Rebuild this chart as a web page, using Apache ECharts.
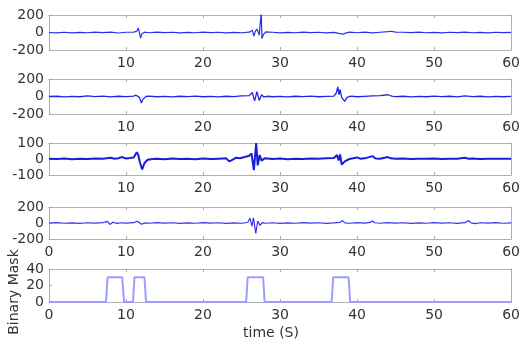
<!DOCTYPE html>
<html>
<head>
<meta charset="utf-8">
<script src="https://cdn.jsdelivr.net/npm/echarts@6/dist/echarts.min.js"></script>
<style>
  html, body { margin: 0; padding: 0; background: #fff; }
  #chart { width: 523px; height: 341px; }
</style>
</head>
<body>
<div id="chart"></div>
<script>
// time (s), amplitude pairs
const sig1 = [
  [0, 0], [1, -5], [2, 3], [3, -4], [4, 2], [5, -3], [6, 4], [7, -2], [8, 5], [9, -6], [10, 3],
  [11, 5], [11.4, 15], [11.6, 50], [11.75, 30], [11.9, -65], [12.05, -15], [12.4, 4], [13, -3],
  [14, 4], [15, -2], [16, 3], [17, -4], [18, 2], [19, -3], [20, 4], [21, -2], [22, 3], [23, -5],
  [24, 2], [25, -3], [26, 4], [26.4, 25], [26.6, -40], [26.8, 15], [27.0, 40], [27.3, -30],
  [27.55, 230], [27.65, -70], [27.85, -20], [28.2, 8], [29, 3], [30, -4], [31, 2], [32, -3],
  [33, 4], [34, -2], [35, 3], [36, -4], [37, 2], [37.8, -12], [38.2, -18], [38.6, -5], [39, 4],
  [40, -3], [41, 5], [42, -4], [43, 3], [44, 10], [44.4, 14], [45, 5], [46, 3], [47, -2],
  [48, 4], [49, -3], [50, 2], [51, -4], [52, 3], [53, -2], [54, 5], [55, -3], [56, 2], [57, -4],
  [58, 3], [59, -2], [60, 2]
];
const sig2 = [
  [0, 0], [1, 3], [2, -4], [3, 2], [4, -3], [5, 6], [6, -2], [7, 5], [8, -4], [9, 3], [10, -2],
  [11, 4], [11.3, 15], [11.55, 35], [11.75, -10], [12.0, -75], [12.2, -30], [12.6, 0], [13, 4],
  [14, -3], [15, 2], [16, -4], [17, 3], [18, -2], [19, 4], [20, -3], [21, 2], [22, -4], [23, 3],
  [24, -2], [25, 6], [26, 10], [26.4, 45], [26.7, -50], [27.0, 55], [27.3, -45], [27.6, 20],
  [27.9, -5], [28.5, 3], [29, -3], [30, 2], [31, -4], [32, 3], [33, -2], [34, 4], [35, -3],
  [36, 2], [37, 5], [37.3, 40], [37.5, 110], [37.65, 20], [37.8, 80], [38.0, -10], [38.4, -55],
  [38.7, -10], [39.2, 4], [40, -3], [41, 2], [42, 6], [43, 10], [44, 20], [44.5, 5], [45, -2],
  [46, 3], [47, -4], [48, 2], [49, -3], [50, 4], [51, -2], [52, 3], [53, -4], [54, 6], [55, -2],
  [56, 3], [57, -4], [58, 2], [59, -3], [60, 2]
];
const sig3 = [
  [0, 2], [1, 0], [2, 3], [3, -1], [4, 2], [5, 0], [6, 3], [7, 1], [8, 8], [8.5, 2], [9, 5],
  [9.5, 12], [10, 3], [10.5, 6], [11, 10], [11.4, 42], [11.6, 25], [11.8, -20], [12.1, -65],
  [12.4, -25], [12.8, -5], [13.5, 0], [14, 2], [15, -1], [16, 3], [17, 0], [18, 2], [19, -1],
  [20, 3], [21, 0], [22, 2], [23, 4], [23.4, -15], [23.8, -5], [24.3, 8], [24.8, 5], [25.4, 12],
  [26.0, 20], [26.3, 35], [26.6, -70], [26.9, 100], [27.1, -40], [27.35, 25], [27.6, -10],
  [28, 4], [29, 0], [30, 3], [31, -1], [32, 2], [33, 0], [34, 3], [35, 1], [36, 4], [37, 6],
  [37.4, 25], [37.6, -10], [37.8, 28], [38.0, -35], [38.4, -15], [39, 0], [40, 10], [40.4, 2],
  [41, 4], [42, 18], [42.4, 3], [43, 2], [44, 12], [44.4, 4], [45, 1], [46, 3], [47, 0], [48, 2],
  [49, 1], [50, 3], [51, 0], [52, 2], [53, 1], [54, 8], [54.5, 2], [55, 3], [56, 0], [57, 2],
  [58, 1], [59, 2], [60, 1]
];
const sig4 = [
  [0, 0], [1, 4], [2, -3], [3, 2], [4, -4], [5, 3], [6, -2], [7, 4], [7.6, 20], [7.9, -18],
  [8.3, 10], [8.8, -5], [9.5, 3], [10, -2], [11, 4], [11.4, 22], [11.7, 8], [12.0, -15],
  [12.5, 2], [13, -3], [14, 4], [15, -2], [16, 3], [17, -4], [18, 2], [19, -3], [20, 4],
  [21, -2], [22, 3], [23, -4], [24, 2], [25, -3], [25.8, 6], [26.1, 60], [26.35, -40],
  [26.55, 65], [26.85, -130], [27.1, 25], [27.4, -30], [27.7, 5], [28.2, -3], [29, 3], [30, -4],
  [31, 2], [32, -3], [33, 4], [34, -2], [35, 3], [36, -4], [37, 2], [37.8, 8], [38.1, 30],
  [38.4, 2], [39, -3], [40, 4], [41, -2], [41.7, 8], [42.0, 25], [42.3, 3], [43, -3], [44, 4],
  [45, -2], [46, 3], [47, -4], [48, 2], [49, -3], [50, 4], [51, -2], [52, 3], [53, -4],
  [54, 4], [54.5, 30], [54.8, 2], [55.3, -8], [56, 3], [57, -2], [58, 4], [59, -3], [60, 2]
];
const binaryMask = [
  [0, 0], [7.4, 0], [7.6, 30], [9.5, 30], [9.75, 0], [10.9, 0], [11.1, 30], [12.4, 30],
  [12.6, 0], [25.6, 0], [25.8, 30], [27.8, 30], [28.0, 0], [36.7, 0], [36.9, 30], [38.9, 30],
  [39.1, 0], [60, 0]
];
const yRanges = [[-200, 200, 200], [-200, 200, 200], [-100, 100, 100], [-200, 200, 200], [0, 40, 20]];
const xTicks = { min: 0, max: 60, interval: 10 };

const chart = echarts.init(document.getElementById('chart'));

const grids = [
  { top: 15, height: 35 },
  { top: 79, height: 35 },
  { top: 143, height: 32 },
  { top: 207, height: 32 },
  { top: 269, height: 33 },
].map((g) => ({ ...g, left: 49, right: 10 }));

const frameLine = { show: true, onZero: false, lineStyle: { color: '#b0b0b0', width: 1 } };
const tickStyle = { inside: true, length: 3, lineStyle: { color: '#aaa' } };
const labelStyle = { color: '#333', fontSize: 14, fontFamily: 'DejaVu Sans' };

const xAxes = [];
const yAxes = [];
grids.forEach((g, i) => {
  xAxes.push({
    gridIndex: i, type: 'value', ...xTicks, position: 'bottom',
    axisLine: frameLine, axisTick: tickStyle, splitLine: { show: false },
    axisLabel: { ...labelStyle, margin: 6, showMinLabel: i >= 3 },
  });
  xAxes.push({
    gridIndex: i, type: 'value', ...xTicks, position: 'top',
    axisLine: frameLine, axisTick: tickStyle, splitLine: { show: false },
    axisLabel: { show: false },
  });
  const [min, max, interval] = yRanges[i];
  yAxes.push({
    gridIndex: i, type: 'value', min, max, interval, position: 'left',
    axisLine: frameLine, axisTick: { ...tickStyle, show: true }, splitLine: { show: false },
    axisLabel: { ...labelStyle, margin: 5 },
  });
  yAxes.push({
    gridIndex: i, type: 'value', min, max, interval, position: 'right',
    axisLine: frameLine, axisTick: { show: false }, splitLine: { show: false },
    axisLabel: { show: false },
  });
});

const traces = [sig1, sig2, sig3, sig4];
const traceColors = ['#2d2df0', '#2424e6', '#1c1cd8', '#3535f0'];
const traceWidths = [1.2, 1.3, 2, 1.2];

const series = traces.map((data, i) => ({
  type: 'line', xAxisIndex: i * 2, yAxisIndex: i * 2, data,
  showSymbol: false, symbol: 'none', animation: false,
  lineStyle: { color: traceColors[i], width: traceWidths[i] },
}));
series.push({
  type: 'line', xAxisIndex: 8, yAxisIndex: 8, data: binaryMask,
  showSymbol: false, symbol: 'none', animation: false, clip: false,
  lineStyle: { color: '#9d9dff', width: 2 },
});

chart.setOption({
  backgroundColor: '#fff',
  animation: false,
  grid: grids,
  xAxis: xAxes,
  yAxis: yAxes,
  series,
  graphic: [
    {
      type: 'text', x: 14, y: 292, rotation: Math.PI / 2,
      style: { text: 'Binary Mask', fill: '#333', fontSize: 14, fontFamily: 'DejaVu Sans', align: 'center', verticalAlign: 'middle' },
    },
    {
      type: 'text', x: 271, y: 333,
      style: { text: 'time (S)', fill: '#333', fontSize: 14, fontFamily: 'DejaVu Sans', align: 'center', verticalAlign: 'middle' },
    },
  ],
});
</script>
</body>
</html>
